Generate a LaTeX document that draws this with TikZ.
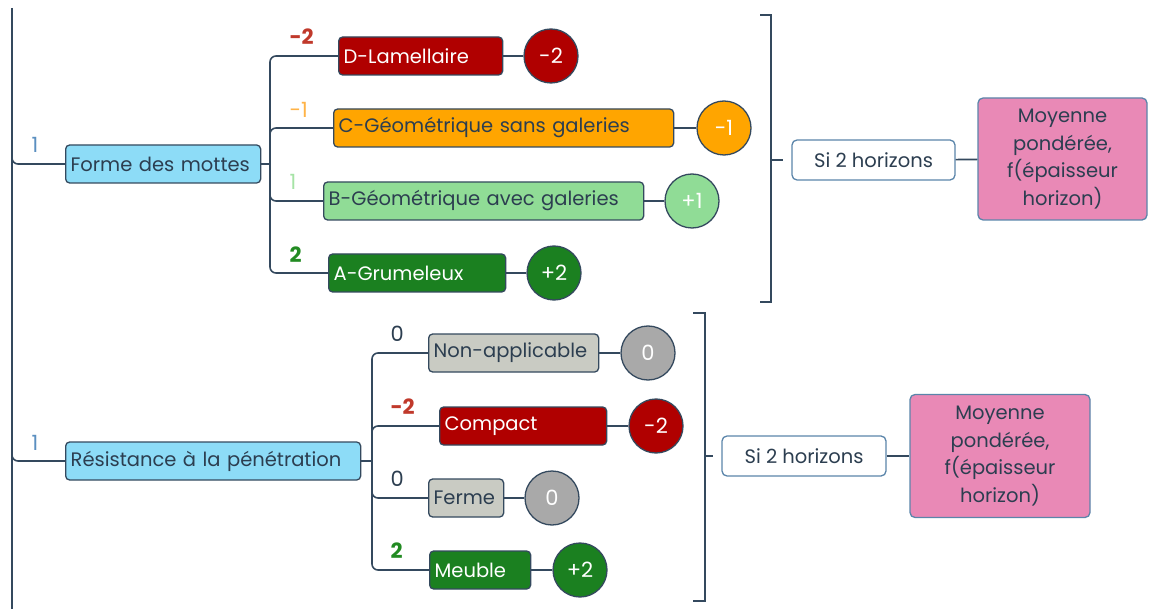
\documentclass[tikz,border=0pt]{standalone}
\usepackage{fontspec}
\setmainfont{Poppins}
\usetikzlibrary{positioning}

\definecolor{edge}{HTML}{34495E}
\definecolor{txt}{HTML}{2C3E50}
\definecolor{wblue}{HTML}{5B8FC0}
\definecolor{blueF}{HTML}{8DDCF7}
\definecolor{redF}{HTML}{B00000}
\definecolor{redL}{HTML}{C0392B}
\definecolor{orangeF}{HTML}{FFA500}
\definecolor{orangeL}{HTML}{FFB347}
\definecolor{lgreenF}{HTML}{90DC96}
\definecolor{lgreenL}{HTML}{A6E3A6}
\definecolor{greenF}{HTML}{1B8020}
\definecolor{greenL}{HTML}{228B22}
\definecolor{grayF}{HTML}{C9CBC3}
\definecolor{grayC}{HTML}{A9A9A9}
\definecolor{pinkF}{HTML}{E989B6}
\definecolor{condB}{HTML}{5B85AA}

\begin{document}
\begin{tikzpicture}[x=1pt, y=-1pt,
  conn/.style={draw=edge, line width=1.6pt},
  cat/.style={draw=edge, line width=1.3pt, rounded corners=4pt, anchor=west,
    minimum height=38pt, inner xsep=5pt, align=left, text=txt,
    font=\fontsize{19.5}{22}\selectfont},
  score/.style={circle, draw=edge, line width=1.3pt, minimum size=54pt,
    inner sep=0pt, text=white, font=\fontsize{21}{22}\selectfont},
  wt/.style={anchor=base west, font=\fontsize{21}{22}\selectfont},
  cond/.style={draw=condB, line width=1.3pt, rounded corners=5pt, fill=white,
    minimum height=40pt, text=txt, font=\fontsize{19.5}{22}\selectfont},
  avg/.style={draw=condB, line width=1.3pt, rounded corners=5pt, fill=pinkF,
    align=center, text=txt, font=\fontsize{19.5}{27.5}\selectfont}
]
  \useasboundingbox (0,0) rectangle (1155,609);

  % main vertical line
  \draw[conn] (12,8) -- (12,609);

  % ---------- Forme des mottes ----------
  \node[cat, fill=blueF, text width=185pt] (forme) at (65,164) {Forme des mottes};
  \node[wt, text=wblue] (wforme) at (28,153) {1};
  \draw[conn, rounded corners=6pt] (12,150) |- (forme.west);

  \node[cat, fill=redF, text=white, text width=154pt] (fd) at (338,56) {D-Lamellaire};
  \node[cat, fill=orangeF, text width=330pt] (fc) at (333,128) {C-Géométrique sans galeries};
  \node[cat, fill=lgreenF, text width=310pt] (fb) at (323,201) {B-Géométrique avec galeries};
  \node[cat, fill=greenF, text=white, text width=167pt] (fa) at (328,273) {A-Grumeleux};

  \coordinate (fj) at (270,164);
  \draw[conn] (forme.east) -- (fj);
  \draw[conn, rounded corners=6pt] (fd.west) -| (fj) |- (fa.west);
  \draw[conn, rounded corners=6pt] (270,140) |- (fc.west);
  \draw[conn, rounded corners=6pt] (270,190) |- (fb.west);

  \node[wt, text=redL, font=\fontsize{21}{22}\selectfont\bfseries] (wfd) at (286,45) {-2};
  \node[wt, text=orangeL] (wfc) at (286,118) {-1};
  \node[wt, text=lgreenL] (wfb) at (286,190) {1};
  \node[wt, text=greenL, font=\fontsize{21}{22}\selectfont\bfseries] (wfa) at (286,263) {2};

  \node[score, fill=redF] (sfd) at (551,56) {-2};
  \node[score, fill=orangeF] (sfc) at (724,128) {-1};
  \node[score, fill=lgreenF] (sfb) at (692,201) {+1};
  \node[score, fill=greenF] (sfa) at (554,273) {+2};
  \draw[conn] (fd) -- (sfd);
  \draw[conn] (fc) -- (sfc);
  \draw[conn] (fb) -- (sfb);
  \draw[conn] (fa) -- (sfa);

  % bracket and result
  \draw[conn] (760,15) -- (771,15) -- (771,302) -- (760,302);
  \coordinate (tk1) at (783,160);
  \draw[conn] (771,160) -- (tk1);
  \node[cond, minimum width=163pt] (si1) at (873.5,160) {Si 2 horizons};
  \node[avg, minimum width=169pt, minimum height=122pt] (moy1) at (1062.5,159)
    {Moyenne\\pondérée,\\f(épaisseur\\horizon)};
  \draw[conn] (si1) -- (moy1);

  % ---------- Résistance à la pénétration ----------
  \node[cat, fill=blueF, text width=285pt] (resist) at (65,461) {Résistance à la pénétration};
  \node[wt, text=wblue] (wresist) at (28,450) {1};
  \draw[conn, rounded corners=6pt] (12,447) |- (resist.west);

  \node[cat, fill=grayF, text width=160pt] (rn) at (428,353) {Non-applicable};
  \node[cat, fill=redF, text=white, text width=157pt] (rc) at (439,426) {Compact};
  \node[cat, fill=grayF, text width=65pt] (rf) at (428,498) {Ferme};
  \node[cat, fill=greenF, text=white, text width=91pt] (rm) at (429,570) {Meuble};

  \coordinate (rj) at (372,461);
  \draw[conn] (resist.east) -- (rj);
  \draw[conn, rounded corners=6pt] (rn.west) -| (rj) |- (rm.west);
  \draw[conn, rounded corners=6pt] (372,438) |- (rc.west);
  \draw[conn, rounded corners=6pt] (372,486) |- (rf.west);

  \node[wt, text=txt] (wrn) at (387,341) {0};
  \node[wt, text=redL, font=\fontsize{21}{22}\selectfont\bfseries] (wrc) at (387,414) {-2};
  \node[wt, text=txt] (wrf) at (387,486) {0};
  \node[wt, text=greenL, font=\fontsize{21}{22}\selectfont\bfseries] (wrm) at (387,558) {2};

  \node[score, fill=grayC] (srn) at (648,353) {0};
  \node[score, fill=redF] (src) at (656,426) {-2};
  \node[score, fill=grayC] (srf) at (552,498) {0};
  \node[score, fill=greenF] (srm) at (580,570) {+2};
  \draw[conn] (rn) -- (srn);
  \draw[conn] (rc) -- (src);
  \draw[conn] (rf) -- (srf);
  \draw[conn] (rm) -- (srm);

  % bracket and result
  \draw[conn] (693,313) -- (705,313) -- (705,601) -- (693,601);
  \coordinate (tk2) at (713,456);
  \draw[conn] (705,456) -- (tk2);
  \node[cond, minimum width=164pt] (si2) at (804,456) {Si 2 horizons};
  \node[avg, minimum width=180pt, minimum height=123pt] (moy2) at (1000,456)
    {Moyenne\\pondérée,\\f(épaisseur\\horizon)};
  \draw[conn] (si2) -- (moy2);
\end{tikzpicture}
\end{document}
